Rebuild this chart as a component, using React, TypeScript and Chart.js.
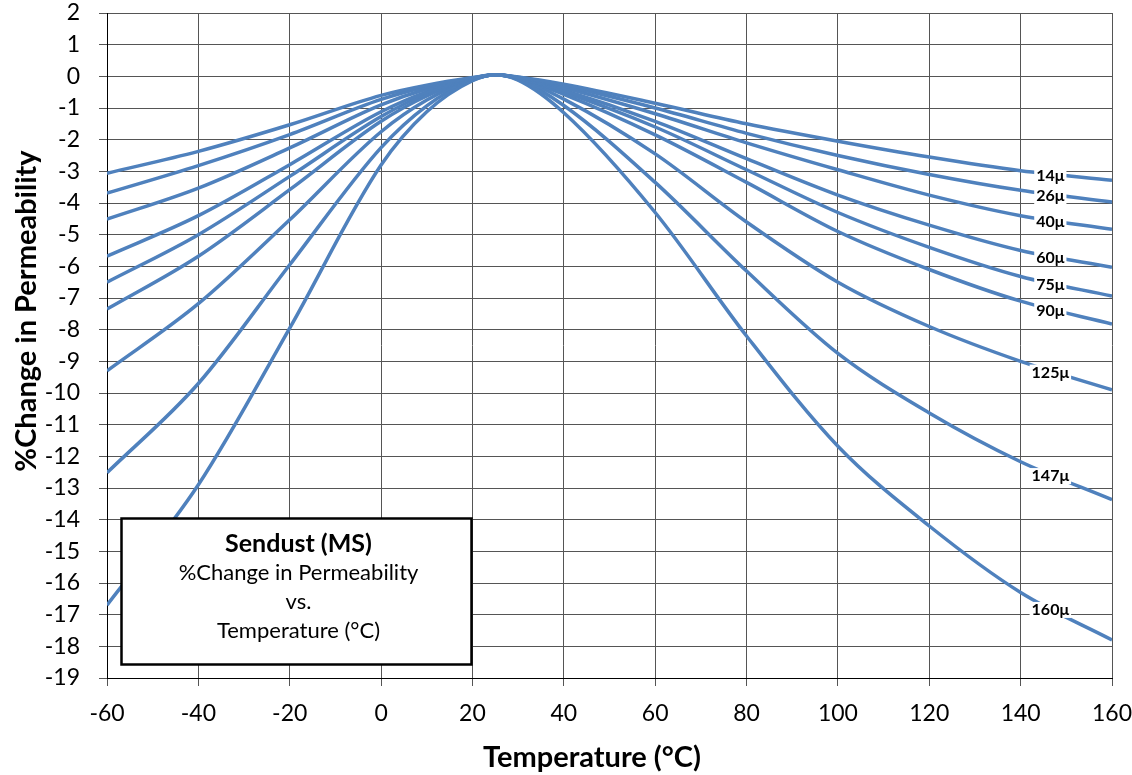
import React, { useEffect, useRef } from "react";
import { Chart, registerables } from "chart.js";

Chart.register(...registerables);

// Temperature points (°C)
const temperatures = [-60, -40, -20, 0, 10, 20, 25, 30, 40, 60, 80, 100, 120, 140, 160];

// % change in permeability for each Sendust permeability grade
const mu14 = [-3.06, -2.37, -1.53, -0.6, -0.28, -0.04, 0.05, -0.02, -0.25, -0.85, -1.5, -2.05, -2.55, -2.98, -3.28];
const mu26 = [-3.69, -2.82, -1.84, -0.73, -0.33, -0.05, 0.05, -0.03, -0.3, -1.0, -1.8, -2.5, -3.1, -3.6, -3.97];
const mu40 = [-4.51, -3.53, -2.26, -0.9, -0.4, -0.06, 0.05, -0.04, -0.36, -1.18, -2.1, -2.95, -3.75, -4.4, -4.83];
const mu60 = [-5.68, -4.4, -2.79, -1.12, -0.49, -0.07, 0.05, -0.05, -0.44, -1.42, -2.6, -3.75, -4.7, -5.5, -6.03];
const mu75 = [-6.5, -5.0, -3.16, -1.27, -0.55, -0.08, 0.05, -0.05, -0.5, -1.6, -2.95, -4.3, -5.4, -6.32, -6.94];
const mu90 = [-7.35, -5.68, -3.58, -1.42, -0.62, -0.09, 0.05, -0.06, -0.57, -1.85, -3.35, -4.9, -6.1, -7.1, -7.82];
const mu125 = [-9.3, -7.18, -4.53, -1.75, -0.75, -0.1, 0.05, -0.08, -0.72, -2.45, -4.6, -6.5, -7.9, -9.0, -9.9];
const mu147 = [-12.52, -9.7, -5.95, -2.25, -0.93, -0.12, 0.05, -0.1, -0.92, -3.35, -6.15, -8.75, -10.63, -12.17, -13.37];
const mu160 = [-16.7, -12.9, -7.95, -2.8, -1.12, -0.14, 0.05, -0.12, -1.15, -4.3, -8.2, -11.68, -14.2, -16.3, -17.8];

const gradeLabels = ["14μ", "26μ", "40μ", "60μ", "75μ", "90μ", "125μ", "147μ", "160μ"];
const gradeSeries = [mu14, mu26, mu40, mu60, mu75, mu90, mu125, mu147, mu160];

const xMin = -60;
const xMax = 160;
const xStep = 20;
const yMin = -19;
const yMax = 2;
const yStep = 1;
const labelTemperature = 146.5;

const xTitle = "Temperature (°C)";
const yTitle = "%Change in Permeability";
const boxLines = ["Sendust (MS)", "%Change in Permeability", "vs.", "Temperature (°C)"];

const FONT = "Lato, 'Open Sans', sans-serif";
const LINE_COLOR = "#4f81bd";
const GRID_COLOR = "#555555";

function valueAt(series: number[], t: number): number {
  for (let i = 0; i < temperatures.length - 1; i++) {
    const a = temperatures[i];
    const b = temperatures[i + 1];
    if (t >= a && t <= b) {
      const f = (t - a) / (b - a);
      return series[i] + (series[i + 1] - series[i]) * f;
    }
  }
  return series[series.length - 1];
}

const curveLabelPlugin = {
  id: "curveLabels",
  afterDatasetsDraw(chart: any) {
    const { ctx, scales } = chart;
    const xs = scales.x;
    const ys = scales.y;
    ctx.save();
    ctx.font = `bold 16px ${FONT}`;
    ctx.textAlign = "center";
    ctx.textBaseline = "middle";
    gradeSeries.forEach((series, i) => {
      const text = gradeLabels[i];
      const v = valueAt(series, labelTemperature);
      const px = xs.getPixelForValue(labelTemperature);
      const py = ys.getPixelForValue(v) + 2;
      const w = ctx.measureText(text).width;
      ctx.fillStyle = "#ffffff";
      ctx.fillRect(px - w / 2 - 2, py - 8, w + 4, 16);
      ctx.fillStyle = "#000000";
      ctx.fillText(text, px, py);
    });
    ctx.restore();
  },
};

const infoBoxPlugin = {
  id: "infoBox",
  afterDatasetsDraw(chart: any) {
    const { ctx, chartArea } = chart;
    const left = chartArea.left + 14.5;
    const top = chartArea.bottom - 159.5;
    const w = 350;
    const h = 146;
    ctx.save();
    ctx.fillStyle = "#ffffff";
    ctx.fillRect(left, top, w, h);
    ctx.strokeStyle = "#000000";
    ctx.lineWidth = 2.5;
    ctx.strokeRect(left, top, w, h);
    ctx.fillStyle = "#000000";
    ctx.textAlign = "center";
    ctx.textBaseline = "middle";
    const cx = left + w / 2 + 2;
    boxLines.forEach((line, i) => {
      ctx.font = i === 0 ? `bold 25px ${FONT}` : `22px ${FONT}`;
      ctx.fillText(line, cx, top + 25 + i * 29.3);
    });
    ctx.restore();
  },
};

const axisTitlePlugin = {
  id: "axisTitles",
  afterDraw(chart: any) {
    const { ctx } = chart;
    ctx.save();
    ctx.fillStyle = "#000000";
    ctx.font = `bold 29px ${FONT}`;
    ctx.textAlign = "center";
    ctx.textBaseline = "middle";
    ctx.fillText(xTitle, 592, 758);
    ctx.translate(27, 311);
    ctx.rotate(-Math.PI / 2);
    ctx.fillText(yTitle, 0, 0);
    ctx.restore();
  },
};

export default function App() {
  const canvasRef = useRef<HTMLCanvasElement | null>(null);

  useEffect(() => {
    const canvas = canvasRef.current;
    if (!canvas) return;
    const datasets = gradeSeries.map((series, i) => ({
      label: gradeLabels[i],
      data: temperatures.map((t, j) => ({ x: t, y: series[j] })),
      borderColor: LINE_COLOR,
      backgroundColor: LINE_COLOR,
      borderWidth: 3.5,
      pointRadius: 0,
      pointHoverRadius: 0,
      fill: false,
      cubicInterpolationMode: "monotone" as const,
    }));

    const chart = new Chart(canvas, {
      type: "line",
      data: { datasets },
      options: {
        animation: false,
        responsive: false,
        devicePixelRatio: 1,
        layout: { padding: { top: 13, right: 20, left: 0, bottom: 0 } },
        plugins: {
          legend: { display: false },
          tooltip: { enabled: false },
          title: { display: false },
        },
        scales: {
          x: {
            type: "linear",
            min: xMin,
            max: xMax,
            afterFit: (scale: any) => {
              scale.height = 97;
              scale.paddingLeft = 0;
              scale.paddingRight = 0;
              scale.paddingTop = 0;
              scale.paddingBottom = 0;
            },
            ticks: {
              stepSize: xStep,
              color: "#000",
              padding: 14,
              maxRotation: 0,
              font: { family: FONT, size: 23 },
            },
            grid: {
              color: GRID_COLOR,
              lineWidth: 1,
              tickLength: 8,
              drawTicks: true,
            },
            border: { color: "#000", width: 1 },
          },
          y: {
            type: "linear",
            min: yMin,
            max: yMax,
            afterFit: (scale: any) => {
              scale.width = 107;
              scale.paddingLeft = 0;
              scale.paddingRight = 0;
              scale.paddingTop = 0;
              scale.paddingBottom = 0;
            },
            ticks: {
              stepSize: yStep,
              color: "#000",
              padding: 19,
              font: { family: FONT, size: 23 },
            },
            grid: {
              color: GRID_COLOR,
              lineWidth: 1,
              tickLength: 8,
              drawTicks: true,
            },
            border: { color: "#000", width: 1 },
          },
        },
      },
      plugins: [curveLabelPlugin, infoBoxPlugin, axisTitlePlugin],
    });

    return () => {
      chart.destroy();
    };
  }, []);

  return (
    <div style={{ position: "fixed", left: 0, top: 0, width: 1132, height: 775, background: "#fff", overflow: "hidden" }}>
      <canvas ref={canvasRef} width={1132} height={775} style={{ display: "block" }} />
    </div>
  );
}
